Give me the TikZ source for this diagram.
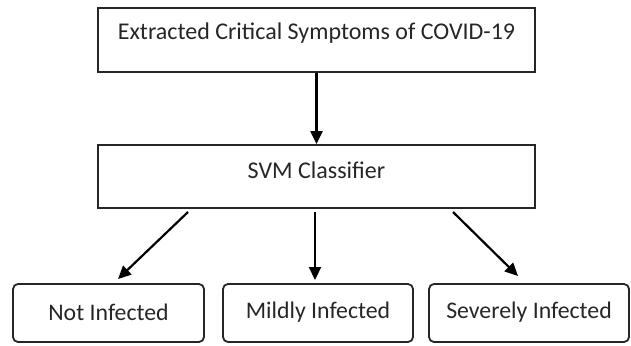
\documentclass[tikz,border=0pt]{standalone}
\usepackage{fontspec}
\setmainfont{Carlito}
\usetikzlibrary{arrows.meta}
\begin{document}
\begin{tikzpicture}[x=1pt,y=-1pt,
  box/.style={draw=black!85,line width=1.8pt,inner sep=0pt},
  outcome/.style={box,rounded corners=5pt},
  lbl/.style={text=black!85,font=\fontsize{24}{27}\selectfont,inner sep=0pt},
  small/.style={text=black!85,font=\fontsize{23.8}{27}\selectfont,inner sep=0pt},
  flow/.style={draw=black,line width=2.2pt,-{Triangle[length=13pt,width=12pt]}}]
  \useasboundingbox (0,0) rectangle (631,345);
  % processing stages
  \node[box,minimum width=437pt,minimum height=64pt] (extract) at (316.5,40) {};
  \node[lbl] (extractlbl) at (316.5,33) {Extracted Critical Symptoms of COVID-19};
  \node[box,minimum width=437pt,minimum height=63pt] (svm) at (316.5,176.5) {};
  \node[lbl] (svmlbl) at (316.5,170) {SVM Classifier};
  % outcome classes
  \node[outcome,minimum width=191pt,minimum height=58pt] (none) at (108.5,313) {};
  \node[small] (nonelbl) at (108.5,312) {Not Infected};
  \node[outcome,minimum width=190pt,minimum height=58pt] (mild) at (318,313) {};
  \node[small] (mildlbl) at (318,312) {Mildly Infected};
  \node[outcome,minimum width=200pt,minimum height=58pt] (severe) at (529,313) {};
  \node[small] (severelbl) at (529,312) {Severely Infected};
  % arrow end points
  \coordinate (lfrom) at (188,212);
  \coordinate (lto) at (118,279);
  \coordinate (mfrom) at (315,212);
  \coordinate (mto) at (315,280);
  \coordinate (rfrom) at (453,212);
  \coordinate (rto) at (518,276);
  % connectors
  \draw[flow] (extract.south) -- (svm.north);
  \draw[flow] (lfrom) -- (lto);
  \draw[flow] (mfrom) -- (mto);
  \draw[flow] (rfrom) -- (rto);
\end{tikzpicture}
\end{document}
